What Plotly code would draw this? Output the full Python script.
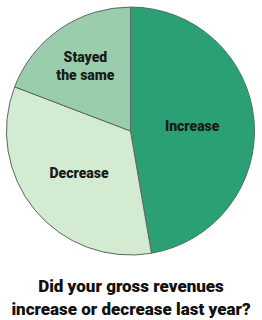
import plotly.graph_objects as go

labels = ["Increase", "Decrease", "Stayed<br>the same"]
values = [47.3, 33.5, 19.2]
colors = ["#2BA074", "#D3EBD0", "#99CDAB"]
title_text = "Did your gross revenues<br>increase or decrease last year?"

font_fam = "Roboto, Arial, sans-serif"

fig = go.Figure(go.Pie(
    labels=labels,
    values=values,
    sort=False,
    direction="clockwise",
    rotation=0,
    marker=dict(colors=colors, line=dict(color="#5a6a60", width=1)),
    textinfo="label",
    textposition="inside",
    insidetextorientation="horizontal",
    insidetextfont=dict(family=font_fam, size=14, color="#1a1a1a", weight=900),
    hoverinfo="label+percent",
    showlegend=False,
    domain=dict(x=[0.023, 0.973], y=[0.203, 0.978]),
))

fig.update_layout(
    width=262, height=320,
    margin=dict(l=0, r=0, t=0, b=0),
    paper_bgcolor="white",
    plot_bgcolor="white",
    title=dict(
        text=title_text,
        x=0.5, xanchor="center",
        y=0.086, yanchor="middle", yref="container",
        font=dict(family=font_fam, size=17, color="#111111", weight=900),
    ),
)

fig.write_html("out.html")
